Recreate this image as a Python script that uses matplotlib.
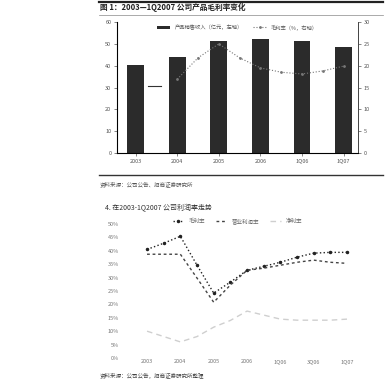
import numpy as np
import matplotlib
matplotlib.use("Agg")
import matplotlib.pyplot as plt
from matplotlib.lines import Line2D

plt.rcParams['font.family'] = ['Noto Sans CJK SC', 'DejaVu Sans']

# upper chart: revenue bars (left axis) and gross margin line (right axis)
bar_labels = ["2003", "2004", "2005", "2006", "1Q06", "1Q07"]
revenue = [40.3, 44.0, 51.3, 52.2, 51.3, 48.6]
margin_x = [1.0, 1.5, 2.0, 2.5, 3.0, 3.5, 4.0, 4.5, 5.0]
margin = [16.9, 21.8, 25.0, 21.8, 19.5, 18.5, 18.1, 18.8, 19.9]
margin_start_x = [0.3, 0.6]
margin_start = [15.3, 15.3]

# lower chart: three margin series on half-step positions
line_x = np.arange(0, 6.5, 0.5)
line_labels = ["2003", "2004", "2005", "2006", "1Q06", "3Q06", "1Q07"]
gross = [40.5, 42.8, 45.4, 34.6, 24.2, 28.3, 32.7, 34.2, 35.7, 37.6, 39.1, 39.4, 39.4]
operating = [38.7, 38.7, 38.7, 29.8, 20.8, 27.2, 32.7, 33.5, 34.6, 35.7, 36.5, 35.7, 35.3]
net = [10.0, 8.0, 6.0, 8.0, 11.5, 14.0, 17.5, 16.0, 14.5, 14.1, 14.1, 14.1, 14.5]

fig = plt.figure(figsize=(3.91, 3.83), dpi=100)
fig.patch.set_facecolor("white")

txt = "#555555"

# header rules and titles
fig.add_artist(Line2D([0.252, 0.98], [0.994, 0.994], color="#222222", lw=1.6))
fig.text(0.256, 0.981, "图 1：2003—1Q2007 公司产品毛利率变化", fontsize=5.5,
         fontweight="bold", color="#222222", va="center")
fig.add_artist(Line2D([0.252, 0.98], [0.96, 0.96], color="#888888", lw=0.5))

ax = fig.add_axes([0.299, 0.6005, 0.617, 0.342])
x = np.arange(len(bar_labels))
ax.bar(x, revenue, width=0.4, color="#2b2b2b", label="产品销售收入（亿元，左轴）")
ax.set_xlim(-0.45, 5.35)
ax.set_ylim(0, 60)
ax.set_yticks(np.arange(0, 61, 10))
ax.set_xticks(x)
ax.set_xticklabels(bar_labels)
ax.tick_params(labelsize=4, colors=txt, length=2, width=0.5, pad=2)
for s in ["top"]:
    ax.spines[s].set_visible(False)
for s in ["left", "bottom", "right"]:
    ax.spines[s].set_linewidth(0.6)
    ax.spines[s].set_color("#444444")

ax2 = ax.twinx()
ax2.plot(margin_start_x, margin_start, color="#333333", lw=0.8)
ax2.plot(margin_x, margin, color="#777777", lw=0.8, ls=":", marker=".", ms=2,
         label="毛利率（%，右轴）")
ax2.set_ylim(0, 30)
ax2.set_yticks(np.arange(0, 31, 5))
ax2.tick_params(labelsize=4, colors=txt, length=2, width=0.5, pad=2)
ax2.spines["top"].set_visible(False)
ax2.spines["right"].set_linewidth(0.6)
ax2.spines["right"].set_color("#444444")

h1, l1 = ax.get_legend_handles_labels()
h2, l2 = ax2.get_legend_handles_labels()
ax.legend(h1 + h2, l1 + l2, loc="upper center", ncol=2, frameon=False,
          fontsize=3.8, labelcolor=txt, handlelength=2.5, handleheight=0.4,
          bbox_to_anchor=(0.5, 1.02), columnspacing=2)

fig.add_artist(Line2D([0.252, 0.98], [0.543, 0.543], color="#333333", lw=1.0))
fig.text(0.256, 0.518, "资料来源：公司公告、招商证券研究所", fontsize=4,
         color=txt, va="center")

# lower chart
fig.text(0.268, 0.457, "4. 在2003-1Q2007 公司利润率走势", fontsize=5,
         color="#333333", va="center")

bx = fig.add_axes([0.307, 0.0653, 0.601, 0.35])
bx.plot(line_x, gross, color="#222222", lw=1.0, ls=":", marker=".", ms=3,
        label="毛利率")
bx.plot(line_x, operating, color="#444444", lw=1.0, ls=(0, (2, 2)),
        label="营业利润率")
bx.plot(line_x, net, color="#cfcfcf", lw=1.0, ls=(0, (4, 3)), label="净利率")
bx.set_xlim(-0.81, 6.24)
bx.set_ylim(0, 50)
bx.set_yticks(np.arange(0, 51, 5))
bx.set_yticklabels([f"{v}%" for v in range(0, 51, 5)])
bx.set_xticks(np.arange(len(line_labels)))
bx.set_xticklabels(line_labels)
bx.tick_params(labelsize=4, colors="#777777", length=0, pad=1)
for s in bx.spines.values():
    s.set_visible(False)
bx.legend(loc="upper center", ncol=3, frameon=False, fontsize=4,
          labelcolor="#666666", handlelength=2, bbox_to_anchor=(0.5, 1.08),
          columnspacing=2)

fig.text(0.256, 0.02, "资料来源：公司公告，招商证券研究所整理", fontsize=4,
         color="#444444", va="center")

fig.savefig("out.png", dpi=100, facecolor="white")
